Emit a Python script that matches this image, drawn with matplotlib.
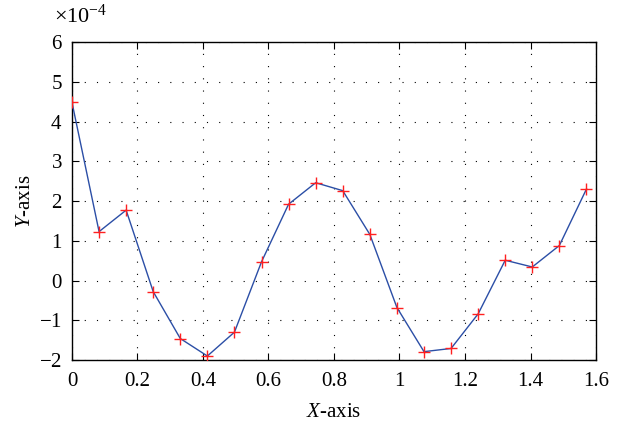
import matplotlib
matplotlib.use("Agg")
import matplotlib.pyplot as plt
from matplotlib.ticker import ScalarFormatter

plt.rcParams['font.family'] = ['Liberation Serif', 'DejaVu Serif']
plt.rcParams['mathtext.fontset'] = 'custom'
plt.rcParams['mathtext.rm'] = 'Liberation Serif'
plt.rcParams['mathtext.it'] = 'Liberation Serif:italic'

x_vals = [0.0, 0.0827, 0.1653, 0.2480, 0.3307, 0.4134, 0.4960, 0.5787, 0.6614,
          0.7441, 0.8267, 0.9094, 0.9921, 1.0748, 1.1574, 1.2401, 1.3228, 1.4054,
          1.4881, 1.5708]
y_vals_e4 = [4.48, 1.23, 1.77, -0.28, -1.46, -1.90, -1.30, 0.47, 1.92,
             2.46, 2.26, 1.16, -0.68, -1.79, -1.71, -0.84, 0.51, 0.34,
             0.88, 2.30]
y_vals = [v * 1e-4 for v in y_vals_e4]

fig = plt.figure(figsize=(6.2, 4.21), dpi=100)
ax = fig.add_axes([0.1161, 0.1449, 0.8452, 0.7553])
ax.plot(x_vals, y_vals, color='#2b4ea6', linewidth=1.0, zorder=3)
ax.plot(x_vals, y_vals, linestyle='none', marker='+', color='#ff2020',
        markersize=9, markeredgewidth=1.0, zorder=4)

ax.set_xlim(0, 1.6)
ax.set_ylim(-2e-4, 6e-4)
ax.set_xticks([0, 0.2, 0.4, 0.6, 0.8, 1.0, 1.2, 1.4, 1.6])
ax.set_xticklabels(['0', '0.2', '0.4', '0.6', '0.8', '1', '1.2', '1.4', '1.6'])
ax.set_yticks([v * 1e-4 for v in [-2, -1, 0, 1, 2, 3, 4, 5, 6]])
fmt = ScalarFormatter(useMathText=True)
fmt.set_powerlimits((-3, 3))
ax.yaxis.set_major_formatter(fmt)
ax.yaxis.get_offset_text().set_visible(False)
ax.text(-0.034, 1.06, r'$\times10^{-4}$', transform=ax.transAxes,
        ha='left', va='baseline', fontsize=16)

ax.grid(True, color='black', linestyle=(0, (1, 10)), linewidth=0.8)
ax.tick_params(direction='in', top=True, right=True, labelsize=15, length=5, width=0.8)
ax.tick_params(axis='x', pad=9)
ax.tick_params(axis='y', pad=7)
for s in ax.spines.values():
    s.set_linewidth(1.0)

ax.set_xlabel(r'$\mathit{X}$-axis', fontsize=15, labelpad=8)
ax.set_ylabel(r'$\mathit{Y}$-axis', fontsize=15, labelpad=3)

fig.savefig('out.png', dpi=100)
